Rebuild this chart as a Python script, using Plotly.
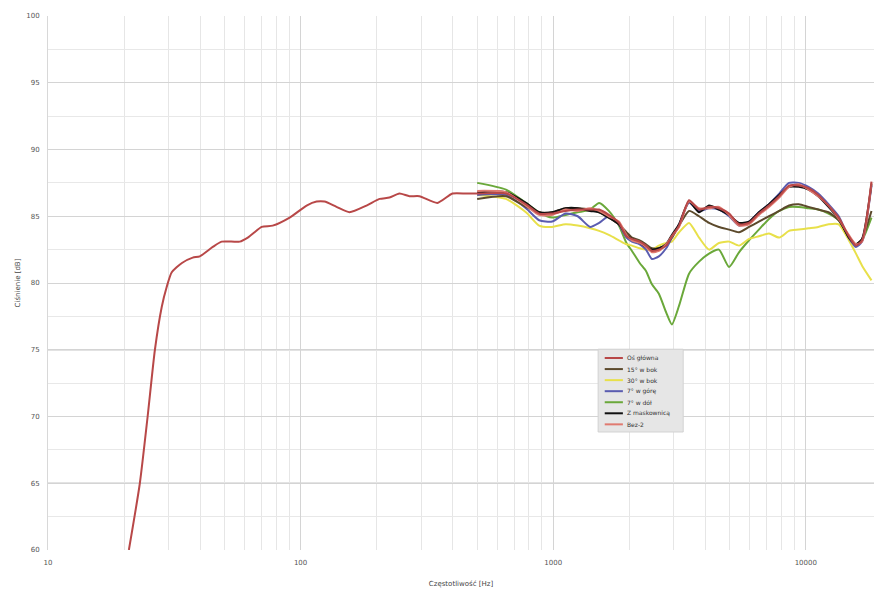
import plotly.graph_objects as go

# Low-frequency part of the on-axis response (measured alone)
low_freq = [20.9, 23.1, 24.8, 26.5, 28.2, 29.5, 30.9, 33.9, 37.4, 39.9, 44.9, 48.7, 57.4,
            61.8, 70.2, 77.5, 90.5, 105.6, 115.7, 124.4, 138.7, 156.2, 182.4, 205.3,
            224.8, 246.2, 269.7, 295.3, 348.0, 399.1, 453.0]
low_spl = [60.0, 65.0, 70.0, 75.0, 78.2, 79.7, 80.8, 81.5, 81.9, 82.0, 82.7, 83.1, 83.1,
           83.4, 84.2, 84.3, 84.9, 85.8, 86.1, 86.1, 85.7, 85.3, 85.8, 86.3,
           86.4, 86.7, 86.5, 86.5, 86.0, 86.7, 86.7]

# Common frequency grid for all measured directions
freq = [500, 650, 780, 880, 990, 1120, 1250, 1400, 1520, 1660, 1820, 1950, 2050, 2200,
        2330, 2460, 2620, 2800, 2950, 3150, 3450, 3780, 4140, 4530, 4970, 5440, 5960,
        6520, 7150, 7850, 8580, 9380, 10250, 11200, 12300, 13500, 14800, 15800, 16700, 18200]

os_glowna = [86.7, 86.7, 85.9, 85.2, 85.2, 85.4, 85.5, 85.5, 85.5, 85.1, 84.5, 83.5, 83.3, 83.1,
             82.8, 82.4, 82.5, 82.8, 83.5, 84.3, 86.2, 85.5, 85.7, 85.6, 85.2, 84.4, 84.5,
             85.2, 85.8, 86.5, 87.3, 87.3, 87.1, 86.6, 85.8, 84.9, 83.5, 82.8, 83.2, 87.6]
w_bok_15 = [86.3, 86.5, 85.7, 85.3, 85.3, 85.6, 85.6, 85.5, 85.3, 84.9, 84.4, 83.8, 83.4, 83.2,
            82.9, 82.6, 82.6, 82.9, 83.4, 84.3, 85.4, 85.0, 84.5, 84.2, 84.0, 83.8, 84.2,
            84.6, 85.0, 85.4, 85.8, 85.9, 85.7, 85.5, 85.3, 84.7, 83.5, 82.9, 83.3, 85.4]
w_bok_30 = [86.6, 86.3, 85.3, 84.3, 84.2, 84.4, 84.3, 84.1, 83.9, 83.6, 83.2, 82.9, 82.8, 82.6,
            82.5, 82.5, 82.8, 83.0, 83.1, 83.8, 84.5, 83.4, 82.5, 83.0, 83.1, 82.8, 83.3,
            83.5, 83.7, 83.4, 83.9, 84.0, 84.1, 84.2, 84.4, 84.4, 83.2, 82.2, 81.3, 80.2]
w_gore_7 = [86.6, 86.6, 85.6, 84.7, 84.6, 85.2, 85.0, 84.2, 84.5, 85.0, 84.4, 83.4, 83.1, 82.9,
            82.5, 81.8, 82.0, 82.6, 83.4, 84.4, 86.0, 85.4, 85.6, 85.5, 85.0, 84.3, 84.6,
            85.3, 85.9, 86.7, 87.5, 87.5, 87.2, 86.7, 85.9, 85.0, 83.4, 82.7, 83.1, 87.3]
w_dol_7 = [87.5, 87.0, 86.0, 85.3, 84.9, 85.1, 85.3, 85.5, 86.0, 85.4, 84.3, 83.0, 82.4, 81.5,
           80.9, 79.9, 79.2, 77.8, 76.9, 78.3, 80.7, 81.6, 82.2, 82.5, 81.2, 82.3, 83.2,
           84.0, 84.8, 85.4, 85.7, 85.7, 85.6, 85.5, 85.2, 84.7, 83.4, 82.8, 83.2, 84.9]
z_maskownica = [86.8, 86.8, 86.0, 85.3, 85.3, 85.6, 85.6, 85.4, 85.3, 84.9, 84.4, 83.6, 83.3, 83.0,
                82.7, 82.5, 82.6, 82.9, 83.6, 84.4, 86.1, 85.3, 85.8, 85.5, 85.1, 84.5, 84.6,
                85.3, 85.9, 86.6, 87.2, 87.2, 87.0, 86.5, 85.7, 84.8, 83.4, 82.9, 83.3, 87.4]
bez_2 = [86.9, 86.8, 85.8, 85.1, 85.1, 85.5, 85.4, 85.6, 85.4, 85.0, 84.6, 83.6, 83.2, 83.0,
         82.7, 82.3, 82.4, 82.9, 83.5, 84.2, 86.1, 85.6, 85.6, 85.7, 85.1, 84.3, 84.4,
         85.1, 85.7, 86.4, 87.2, 87.4, 87.0, 86.5, 85.8, 84.8, 83.6, 82.9, 83.1, 87.5]

series_names = ["Oś główna", "15° w bok", "30° w bok", "7° w górę", "7° w dół", "Z maskownicą", "Bez-2"]
series_colors = ["#b84848", "#5c4a2c", "#e8e04a", "#5a5cb0", "#6aa83a", "#111111", "#e07a70"]
series_values = [os_glowna, w_bok_15, w_bok_30, w_gore_7, w_dol_7, z_maskownica, bez_2]

y_ticks = [60, 65, 70, 75, 80, 85, 90, 95, 100]
x_ticks = [10, 100, 1000, 10000]

fig = go.Figure()

# draw order: side/offset measurements below, on-axis response on top
draw_order = [4, 2, 3, 1, 5, 6, 0]
for i in draw_order:
    x = freq
    y = series_values[i]
    if i == 0:
        x = low_freq + freq
        y = low_spl + os_glowna
    fig.add_trace(go.Scatter(
        x=x, y=y, mode="lines", name=series_names[i], showlegend=False,
        line=dict(color=series_colors[i], width=2, shape="spline", smoothing=0.6),
    ))

# darker reference grid lines
for yv in [65, 75]:
    fig.add_shape(type="line", xref="paper", yref="y", x0=0, x1=1, y0=yv, y1=yv,
                  line=dict(color="#8c8c8c", width=1), layer="below")
fig.add_shape(type="line", xref="x", yref="paper", x0=3, x1=3, y0=0, y1=1,
              line=dict(color="#b4b4b4", width=1), layer="below")

# compact legend box in paper coordinates
leg_x0, leg_x1 = 0.666, 0.769
leg_top, leg_bottom = 0.376, 0.221
row_step = 0.0207
fig.add_shape(type="rect", xref="paper", yref="paper",
              x0=leg_x0, x1=leg_x1, y0=leg_bottom, y1=leg_top,
              fillcolor="#e6e6e6", line=dict(color="#d2d2d2", width=1))
for k, (name, color) in enumerate(zip(series_names, series_colors)):
    yk = leg_top - 0.0165 - k * row_step
    fig.add_shape(type="line", xref="paper", yref="paper",
                  x0=leg_x0 + 0.008, x1=leg_x0 + 0.030, y0=yk, y1=yk,
                  line=dict(color=color, width=2))
    fig.add_annotation(xref="paper", yref="paper", x=leg_x0 + 0.033, y=yk,
                       text=name, showarrow=False, xanchor="left", yanchor="middle",
                       font=dict(size=6, color="#333333"))

fig.update_layout(
    width=874, height=589,
    margin=dict(l=48, r=0, t=16, b=39),
    paper_bgcolor="white", plot_bgcolor="white",
    font=dict(family="DejaVu Sans", size=7, color="#555555"),
    showlegend=False,
)

fig.update_xaxes(
    type="log", range=[1, 4.27],
    tickvals=x_ticks, ticktext=[str(v) for v in x_ticks],
    showgrid=True, gridcolor="#d4d4d4", gridwidth=1,
    minor=dict(showgrid=True, gridcolor="#e6e6e6", dtick="D1"),
    zeroline=False, showline=False,
    ticks="outside", ticklen=6, tickcolor="rgba(0,0,0,0)",
    title=dict(text="Częstotliwość [Hz]", font=dict(size=7, color="#444444"), standoff=14),
)
fig.update_yaxes(
    range=[60, 100],
    tickvals=y_ticks,
    showgrid=True, gridcolor="#d4d4d4", gridwidth=1,
    minor=dict(showgrid=True, gridcolor="#e8e8e8", dtick=2.5),
    zeroline=False, showline=True, linecolor="#d8d8d8",
    ticks="outside", ticklen=6, tickcolor="rgba(0,0,0,0)",
    title=dict(text="Ciśnienie [dB]", font=dict(size=7, color="#444444"), standoff=4),
)

fig.write_html("out.html")
